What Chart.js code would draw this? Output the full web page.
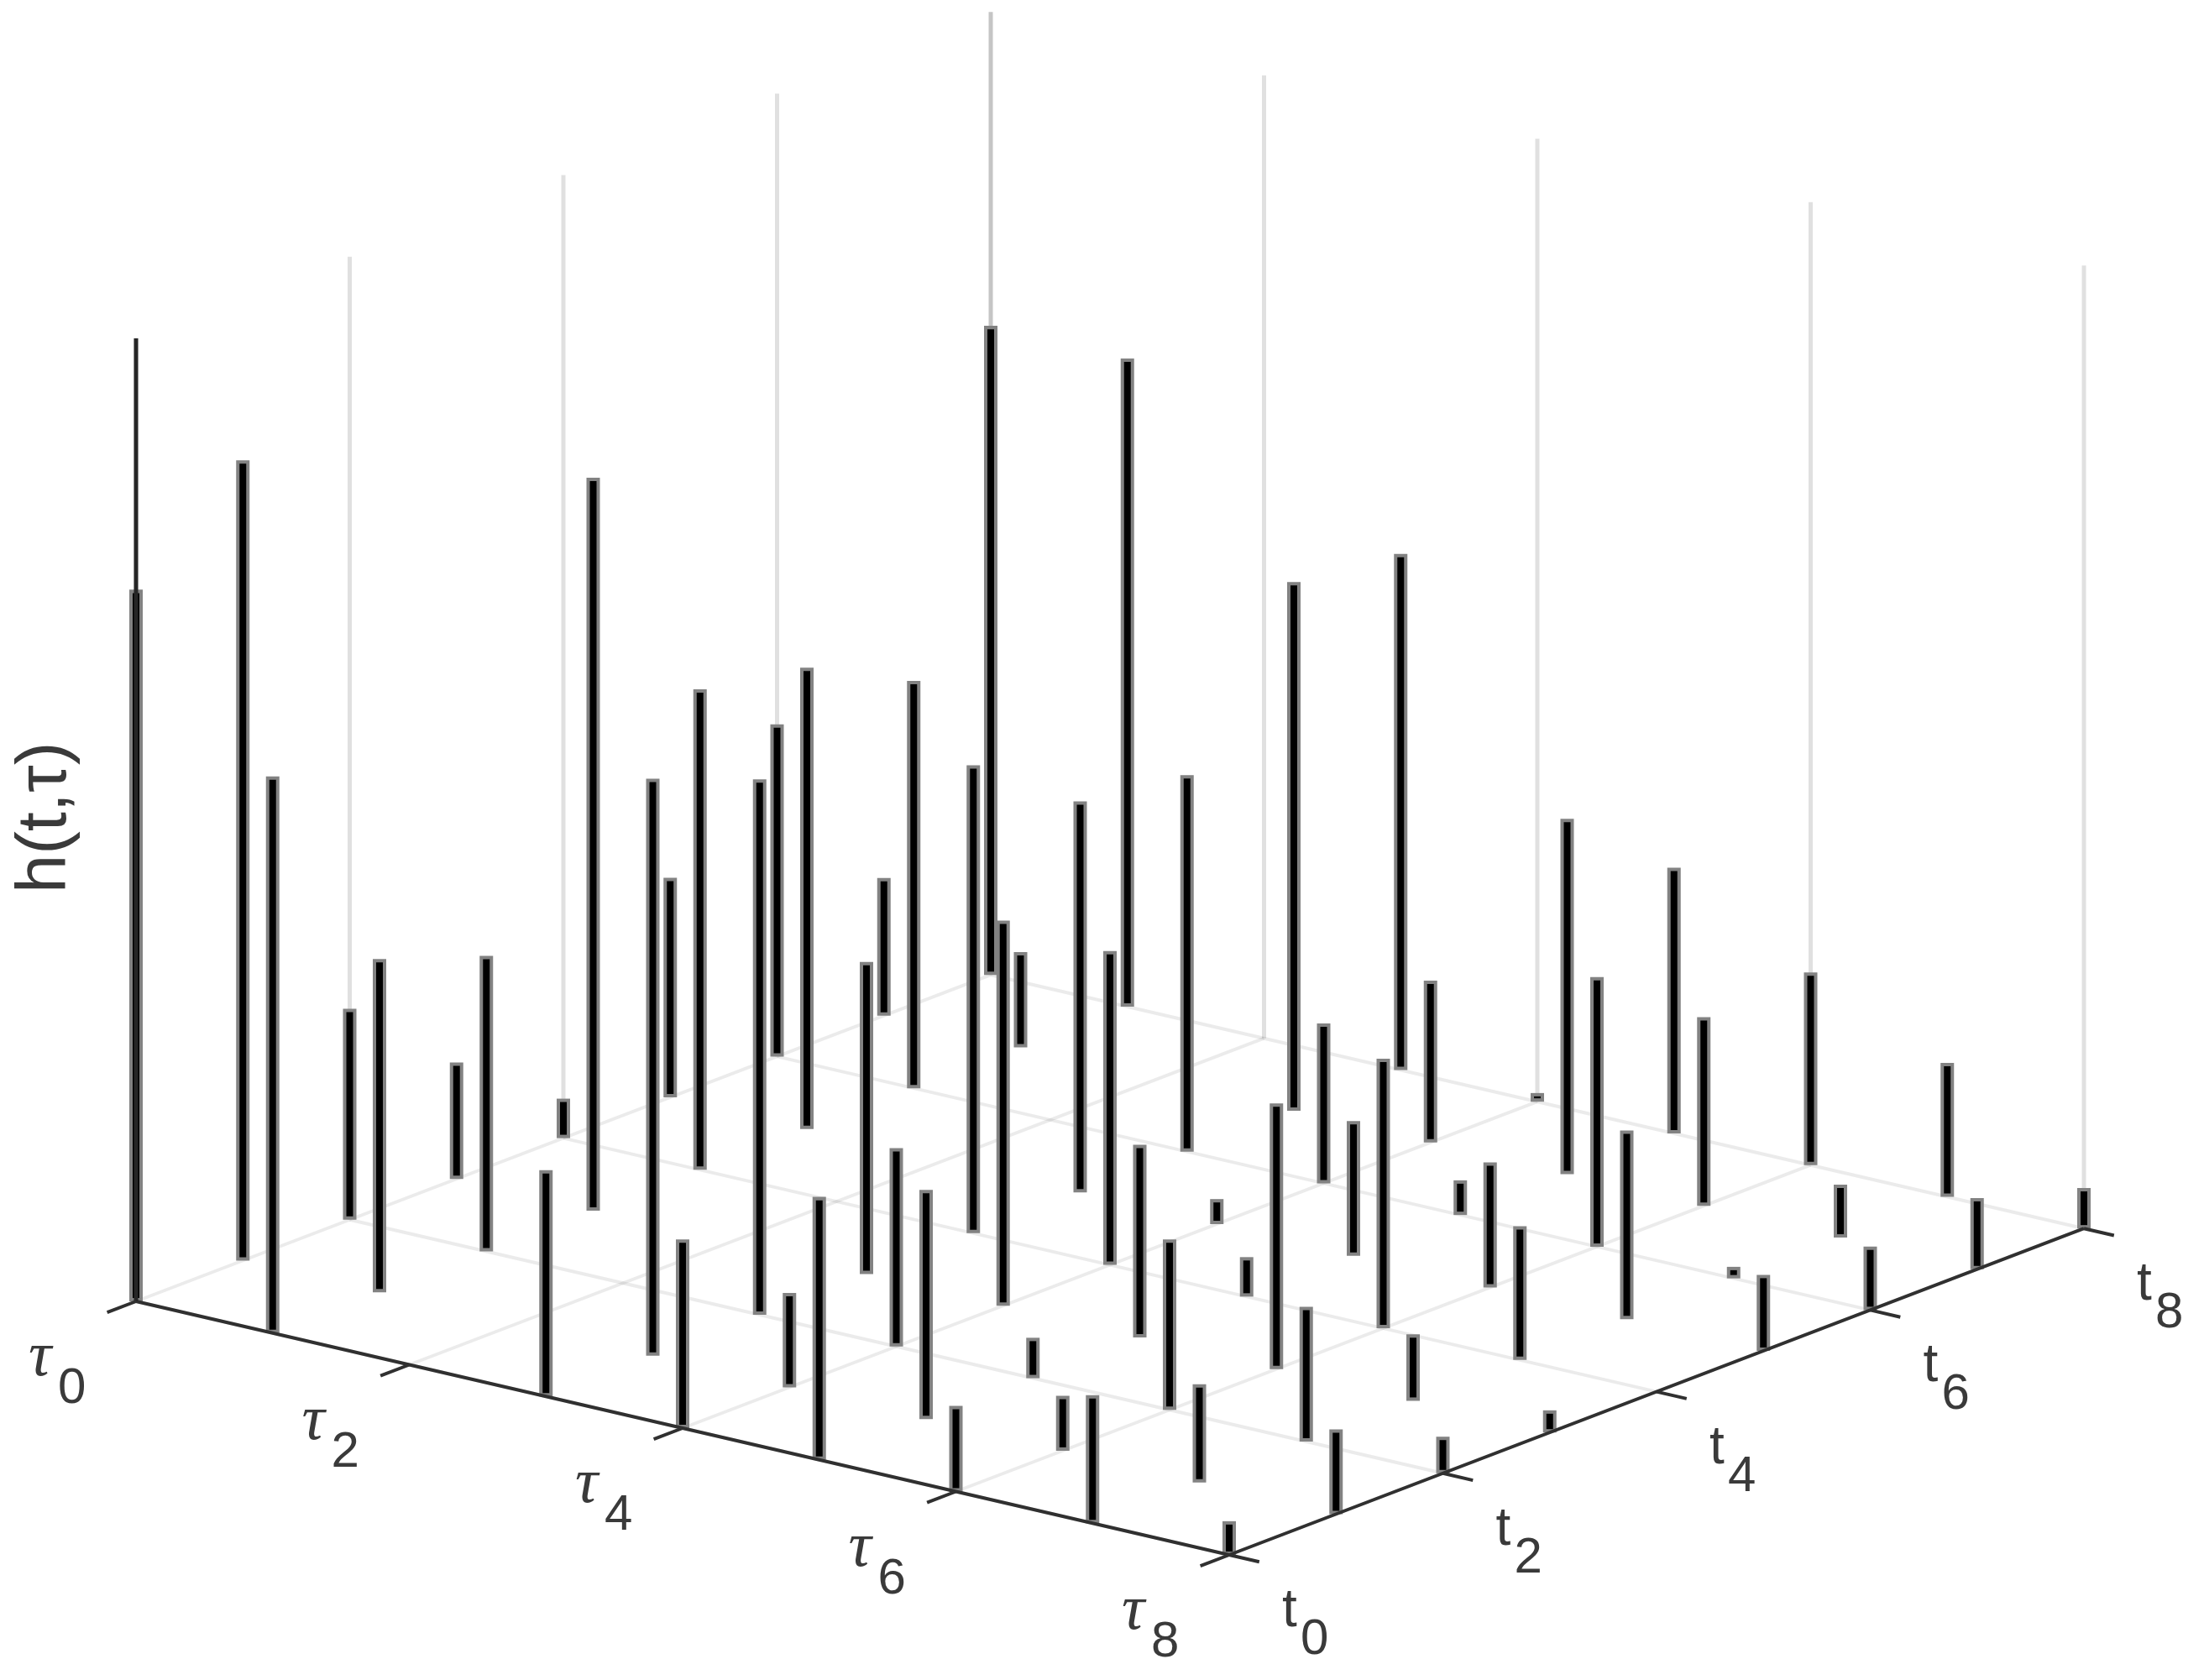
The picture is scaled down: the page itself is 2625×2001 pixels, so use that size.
<!DOCTYPE html>
<html>
<head>
<meta charset="utf-8">
<title>h(t,τ)</title>
<script src="https://cdn.jsdelivr.net/npm/chart.js@4"></script>
<style>
    html, body { margin: 0; padding: 0; background: #fff; }
    canvas { display: block; }
</style>
</head>
<body>
<canvas id="grafica" width="2625" height="2001"></canvas>
<script>
// stem heights, one array per t index, columns are tau 0..8 (z axis runs 0..100)
var hT0 = [73.9, 57.8, 0, 23.5, 19.6, 27.3, 8.9, 13.3, 3.5];
var hT1 = [83.1, 34.6, 0, 59.9, 9.8, 23.8, 5.7, 10.2, 8.8];
var hT2 = [21.9, 30.7, 0, 55.6, 20.6, 4.2, 17.7, 14.0, 3.8];
var hT3 = [12.1, 76.1, 0, 32.4, 40.0, 20.0, 27.6, 6.9, 2.3];
var hT4 = [4.1, 49.9, 0, 48.6, 32.6, 4.1, 28.0, 13.9, 0];
var hT5 = [22.8, 47.9, 0, 40.6, 2.6, 14.0, 13.0, 19.6, 7.9];
var hT6 = [34.5, 42.3, 0, 39.1, 16.6, 3.6, 28.0, 1.2, 6.6];
var hT7 = [14.3, 9.9, 0, 54.9, 16.8, 36.9, 19.6, 5.5, 7.4];
var hT8 = [67.4, 67.3, 0, 53.6, 0.9, 27.6, 20.0, 13.9, 4.2];
var heights = [hT0, hT1, hT2, hT3, hT4, hT5, hT6, hT7, hT8];

var tTicks = [0, 2, 4, 6, 8];
var tauTicks = [0, 2, 4, 6, 8];
var zMax = 100;
var zLabel = 'h(t,τ)';

// oblique view of the t/tau floor onto the page
function project(t, tau, z) {
    return {
        x: 162 + tau * 162.75 + t * 127.25,
        y: 1550 + tau * 37.75 - t * 48.6 - z * 11.47
    };
}

function line(points, color, width) {
    return {
        data: points,
        showLine: true,
        borderColor: color,
        borderWidth: width,
        pointRadius: 0,
        borderCapStyle: 'butt',
        tension: 0
    };
}

var datasets = [];
var gridFloor = 'rgba(0,0,0,0.08)';
var gridWall = 'rgba(0,0,0,0.12)';

tTicks.forEach(function(t) {
    datasets.push(line([project(t, 0, 0), project(t, 8, 0)], gridFloor, 4));
    datasets.push(line([project(t, 0, 0), project(t, 0, zMax)], gridWall, 5));
});
tauTicks.forEach(function(tau) {
    datasets.push(line([project(0, tau, 0), project(8, tau, 0)], gridFloor, 4));
    datasets.push(line([project(8, tau, 0), project(8, tau, zMax)], gridWall, 5));
});

// back stems first so the ones in front paint over them
var stems = [];
heights.forEach(function(row, t) {
    row.forEach(function(h, tau) {
        if (h > 0) stems.push({ t: t, tau: tau, h: h });
    });
});
stems.sort(function(a, b) {
    return project(a.t, a.tau, 0).y - project(b.t, b.tau, 0).y;
});
var coreInset = 0.35; // the black core stops a little short of the grey edge
stems.forEach(function(s) {
    datasets.push(line([project(s.t, s.tau, 0), project(s.t, s.tau, s.h)], '#828282', 16));
    if (s.h > coreInset * 2) {
        datasets.push(line([project(s.t, s.tau, coreInset), project(s.t, s.tau, s.h - coreInset)], '#000000', 8));
    }
});

// box lines and tick marks
var axisColor = '#303030';
datasets.push(line([project(0, 0, 0), project(0, 8, 0)], axisColor, 4));
datasets.push(line([project(0, 8, 0), project(8, 8, 0)], axisColor, 4));
datasets.push(line([project(0, 0, 0), project(0, 0, zMax)], '#262626', 5));
tauTicks.forEach(function(tau) {
    datasets.push(line([project(0, tau, 0), project(-0.27, tau, 0)], axisColor, 4));
});
tTicks.forEach(function(t) {
    datasets.push(line([project(t, 8, 0), project(t, 8.22, 0)], axisColor, 4));
});

datasets.forEach(function(d, i) {
    d.order = -i;
});

var labelsPlugin = {
    id: 'labels3d',
    afterDraw: function(chart) {
        var ctx = chart.ctx;
        var sx = chart.scales.x;
        var sy = chart.scales.y;
        function put(text, font, px, py) {
            ctx.font = font;
            ctx.fillText(text, sx.getPixelForValue(px), sy.getPixelForValue(py));
        }
        ctx.save();
        ctx.fillStyle = '#3a3a3a';
        ctx.textAlign = 'left';
        ctx.textBaseline = 'alphabetic';
        tauTicks.forEach(function(tau) {
            var p = project(0, tau, 0);
            put('τ', 'italic 76px "Liberation Serif"', p.x - 128, p.y + 88);
            put(String(tau), '60px "Liberation Sans"', p.x - 93, p.y + 121);
        });
        tTicks.forEach(function(t) {
            var p = project(t, 8, 0);
            put('t', '64px "Liberation Sans"', p.x + 63, p.y + 85);
            put(String(t), '60px "Liberation Sans"', p.x + 85, p.y + 118);
        });
        ctx.translate(sx.getPixelForValue(78), sy.getPixelForValue(1064));
        ctx.rotate(-Math.PI / 2);
        ctx.font = '83px "Liberation Sans"';
        ctx.fillText(zLabel, 0, 0);
        ctx.restore();
    }
};

var ctx = document.getElementById('grafica').getContext('2d');
var grafica = new Chart(ctx, {
    type: 'scatter',
    data: { datasets: datasets },
    options: {
        responsive: false,
        animation: false,
        layout: { padding: 0 },
        scales: {
            x: { type: 'linear', min: 0, max: 2625, display: false },
            y: { type: 'linear', min: 0, max: 2001, reverse: true, display: false }
        },
        plugins: {
            legend: { display: false },
            tooltip: { enabled: false }
        }
    },
    plugins: [labelsPlugin]
});
</script>
</body>
</html>
